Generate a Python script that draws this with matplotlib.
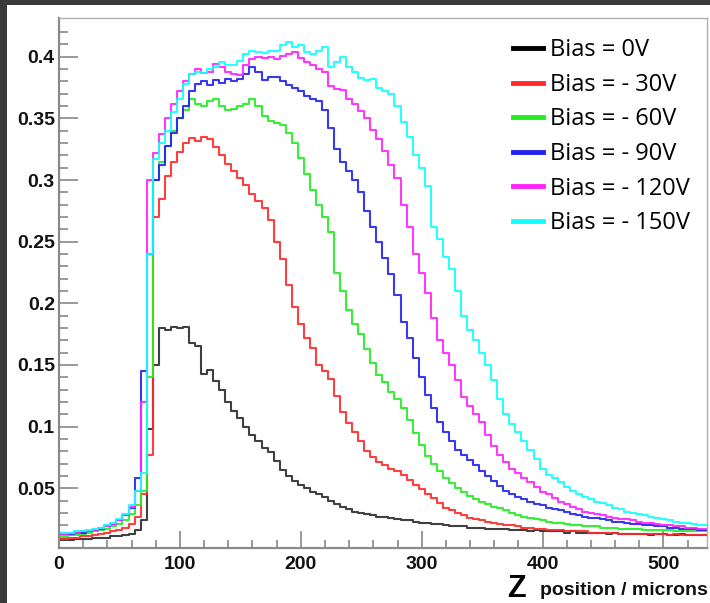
import numpy as np
import matplotlib.pyplot as plt
from matplotlib.patches import Rectangle

# Bin centres along z (microns), 5 micron bins
z_um = np.arange(0, 540, 5)

bias_labels = ["Bias = 0V", "Bias = - 30V", "Bias = - 60V",
               "Bias = - 90V", "Bias = - 120V", "Bias = - 150V"]
bias_colors = ["#2b2b2b", "#ff2a2a", "#22ee22", "#2222ee", "#ff22ff", "#11ffff"]

# Charge collection profiles (one value per bin)
bias_0 = [
    0.008, 0.008, 0.008, 0.009, 0.009, 0.009, 0.010, 0.010, 0.010, 0.011,
    0.011, 0.012, 0.013, 0.016, 0.024, 0.098, 0.150, 0.180, 0.178, 0.181,
    0.180, 0.181, 0.168, 0.165, 0.143, 0.146, 0.137, 0.130, 0.120, 0.113,
    0.107, 0.100, 0.093, 0.088, 0.083, 0.079, 0.072, 0.065, 0.060, 0.056,
    0.053, 0.050, 0.047, 0.045, 0.043, 0.040, 0.037, 0.035, 0.033, 0.031,
    0.030, 0.029, 0.028, 0.027, 0.027, 0.026, 0.025, 0.024, 0.024, 0.023,
    0.022, 0.022, 0.021, 0.021, 0.020, 0.019, 0.019, 0.019, 0.018, 0.018,
    0.018, 0.017, 0.017, 0.017, 0.017, 0.016, 0.016, 0.016, 0.015, 0.016,
    0.015, 0.015, 0.015, 0.015, 0.014, 0.015, 0.014, 0.014, 0.014, 0.014,
    0.014, 0.013, 0.014, 0.013, 0.013, 0.013, 0.013, 0.013, 0.012, 0.013,
    0.013, 0.012, 0.012, 0.013, 0.012, 0.012, 0.012, 0.012,
]
bias_30 = [
    0.009, 0.009, 0.010, 0.010, 0.011, 0.011, 0.012, 0.013, 0.014, 0.015,
    0.016, 0.018, 0.021, 0.027, 0.045, 0.077, 0.270, 0.285, 0.303, 0.315,
    0.323, 0.330, 0.334, 0.332, 0.335, 0.333, 0.327, 0.320, 0.313, 0.307,
    0.302, 0.296, 0.289, 0.283, 0.277, 0.268, 0.250, 0.236, 0.215, 0.197,
    0.183, 0.172, 0.164, 0.150, 0.145, 0.139, 0.125, 0.112, 0.103, 0.096,
    0.088, 0.080, 0.075, 0.071, 0.069, 0.066, 0.064, 0.061, 0.057, 0.053,
    0.049, 0.045, 0.042, 0.038, 0.034, 0.032, 0.030, 0.028, 0.026, 0.025,
    0.024, 0.023, 0.022, 0.021, 0.020, 0.020, 0.019, 0.018, 0.018, 0.017,
    0.017, 0.016, 0.016, 0.016, 0.015, 0.015, 0.015, 0.015, 0.014, 0.014,
    0.014, 0.014, 0.014, 0.013, 0.013, 0.013, 0.013, 0.013, 0.013, 0.013,
    0.013, 0.012, 0.013, 0.012, 0.012, 0.012, 0.012, 0.012,
]
bias_60 = [
    0.011, 0.011, 0.012, 0.012, 0.013, 0.014, 0.015, 0.016, 0.017, 0.019,
    0.021, 0.024, 0.029, 0.036, 0.048, 0.140, 0.300, 0.315, 0.328, 0.340,
    0.350, 0.357, 0.366, 0.362, 0.360, 0.364, 0.366, 0.360, 0.357, 0.358,
    0.360, 0.362, 0.366, 0.360, 0.352, 0.348, 0.346, 0.345, 0.338, 0.330,
    0.318, 0.305, 0.292, 0.280, 0.270, 0.258, 0.225, 0.210, 0.195, 0.183,
    0.175, 0.163, 0.152, 0.142, 0.136, 0.128, 0.122, 0.115, 0.105, 0.095,
    0.085, 0.076, 0.070, 0.064, 0.058, 0.054, 0.050, 0.047, 0.044, 0.041,
    0.039, 0.037, 0.035, 0.034, 0.032, 0.030, 0.028, 0.027, 0.026, 0.025,
    0.024, 0.023, 0.022, 0.022, 0.021, 0.020, 0.020, 0.019, 0.019, 0.019,
    0.018, 0.018, 0.018, 0.017, 0.017, 0.017, 0.017, 0.016, 0.016, 0.016,
    0.016, 0.016, 0.015, 0.015, 0.015, 0.015, 0.015, 0.015,
]
bias_90 = [
    0.013, 0.013, 0.013, 0.014, 0.014, 0.015, 0.016, 0.017, 0.019, 0.021,
    0.024, 0.028, 0.034, 0.058, 0.145, 0.240, 0.300, 0.312, 0.328, 0.338,
    0.350, 0.360, 0.372, 0.378, 0.380, 0.377, 0.381, 0.379, 0.382, 0.380,
    0.382, 0.386, 0.392, 0.388, 0.381, 0.384, 0.384, 0.380, 0.377, 0.375,
    0.372, 0.368, 0.366, 0.364, 0.357, 0.342, 0.325, 0.315, 0.307, 0.300,
    0.290, 0.275, 0.262, 0.250, 0.237, 0.224, 0.207, 0.185, 0.172, 0.156,
    0.140, 0.126, 0.115, 0.104, 0.096, 0.088, 0.081, 0.077, 0.073, 0.069,
    0.064, 0.060, 0.056, 0.052, 0.048, 0.045, 0.043, 0.041, 0.039, 0.037,
    0.036, 0.034, 0.033, 0.032, 0.031, 0.029, 0.028, 0.027, 0.026, 0.026,
    0.025, 0.024, 0.023, 0.023, 0.022, 0.021, 0.021, 0.020, 0.020, 0.019,
    0.019, 0.018, 0.018, 0.017, 0.017, 0.017, 0.016, 0.016,
]
bias_120 = [
    0.013, 0.013, 0.014, 0.014, 0.015, 0.015, 0.016, 0.018, 0.019, 0.021,
    0.024, 0.028, 0.035, 0.048, 0.120, 0.300, 0.322, 0.337, 0.350, 0.362,
    0.372, 0.380, 0.386, 0.390, 0.387, 0.388, 0.394, 0.392, 0.388, 0.386,
    0.385, 0.393, 0.398, 0.400, 0.399, 0.400, 0.398, 0.401, 0.402, 0.404,
    0.399, 0.396, 0.393, 0.390, 0.388, 0.376, 0.374, 0.373, 0.366, 0.362,
    0.356, 0.350, 0.341, 0.333, 0.324, 0.312, 0.302, 0.280, 0.262, 0.240,
    0.225, 0.208, 0.188, 0.170, 0.160, 0.150, 0.138, 0.124, 0.117, 0.110,
    0.104, 0.093, 0.084, 0.077, 0.071, 0.066, 0.062, 0.058, 0.055, 0.051,
    0.047, 0.045, 0.042, 0.039, 0.037, 0.035, 0.033, 0.031, 0.030, 0.029,
    0.028, 0.027, 0.026, 0.025, 0.025, 0.024, 0.023, 0.022, 0.022, 0.021,
    0.020, 0.020, 0.019, 0.019, 0.018, 0.018, 0.017, 0.017,
]
bias_150 = [
    0.014, 0.014, 0.014, 0.015, 0.015, 0.016, 0.017, 0.018, 0.020, 0.022,
    0.025, 0.029, 0.036, 0.048, 0.062, 0.240, 0.317, 0.330, 0.340, 0.355,
    0.366, 0.378, 0.386, 0.388, 0.387, 0.390, 0.392, 0.396, 0.393, 0.393,
    0.397, 0.402, 0.405, 0.404, 0.403, 0.405, 0.405, 0.410, 0.412, 0.408,
    0.410, 0.404, 0.402, 0.405, 0.408, 0.392, 0.396, 0.400, 0.392, 0.388,
    0.383, 0.381, 0.382, 0.375, 0.372, 0.370, 0.360, 0.347, 0.335, 0.320,
    0.310, 0.295, 0.262, 0.252, 0.238, 0.228, 0.210, 0.190, 0.178, 0.170,
    0.160, 0.150, 0.138, 0.122, 0.110, 0.102, 0.096, 0.088, 0.081, 0.074,
    0.066, 0.061, 0.058, 0.055, 0.051, 0.048, 0.045, 0.043, 0.041, 0.039,
    0.038, 0.036, 0.034, 0.033, 0.031, 0.030, 0.029, 0.028, 0.027, 0.026,
    0.025, 0.024, 0.023, 0.022, 0.022, 0.021, 0.020, 0.020,
]
profiles = [bias_0, bias_30, bias_60, bias_90, bias_120, bias_150]

fig = plt.figure(figsize=(7.10, 6.03), dpi=100, facecolor="white")

# dark screenshot border on the top and left edges
fig.patches.append(Rectangle((0, 0), 7 / 710, 1, transform=fig.transFigure,
                             facecolor="#3a3a3a", edgecolor="none", zorder=0))
fig.patches.append(Rectangle((0, 1 - 5 / 603), 1, 5 / 603, transform=fig.transFigure,
                             facecolor="#3a3a3a", edgecolor="none", zorder=0))

ax = fig.add_axes([59 / 710, 55 / 603, 648 / 710, 530 / 603])

lines = []
for vals, lab, col in zip(profiles, bias_labels, bias_colors):
    ln, = ax.step(z_um, vals, where="mid", color=col, lw=1.5, alpha=0.9, label=lab)
    lines.append(ln)

ax.set_xlim(0, 536)
ax.set_ylim(0.0015, 0.4315)

ax.set_xticks([0, 100, 200, 300, 400, 500])
ax.set_xticks(np.arange(0, 540, 20), minor=True)
ax.set_yticks([0.05, 0.1, 0.15, 0.2, 0.25, 0.3, 0.35, 0.4])
ax.set_yticklabels(["0.05", "0.1", "0.15", "0.2", "0.25", "0.3", "0.35", "0.4"])
ax.set_yticks(np.arange(0.01, 0.43, 0.01), minor=True)

ax.tick_params(axis="y", which="major", direction="in", length=13.5, width=1.4,
               color="#999999", pad=3, labelsize=14)
ax.tick_params(axis="y", which="minor", direction="in", length=6.5, width=1.4,
               color="#999999")
ax.tick_params(axis="x", which="major", direction="in", length=12, width=1.4,
               color="#999999", pad=6, labelsize=14)
ax.tick_params(axis="x", which="minor", direction="in", length=6, width=1.4,
               color="#999999")
for lab in ax.get_xticklabels() + ax.get_yticklabels():
    lab.set_fontfamily("Liberation Sans")
    lab.set_fontweight("bold")
    lab.set_color("#111111")

for side in ["left", "bottom"]:
    ax.spines[side].set_color("#8a8a8a")
    ax.spines[side].set_linewidth(1.6)
for side in ["top", "right"]:
    ax.spines[side].set_color("#b0b0b0")
    ax.spines[side].set_linewidth(1.0)

leg = ax.legend(handles=lines, loc="upper left", bbox_to_anchor=(0.700, 0.962),
                frameon=False, borderaxespad=0, borderpad=0,
                handlelength=1.3, handletextpad=0.28, labelspacing=0.45,
                prop={"family": "Open Sans", "size": 17})
for h in leg.legend_handles:
    h.set_linewidth(3.5)
    h.set_alpha(1.0)
leg.legend_handles[0].set_color("black")

fig.text(507 / 710, 6 / 603, "Z", fontsize=22, fontweight="bold",
         family="Liberation Sans", color="black")
fig.text(540 / 710, 8 / 603, "position / microns", fontsize=14, fontweight="bold",
         family="Liberation Sans", color="#111111")

fig.savefig("out.png", dpi=100, facecolor=fig.get_facecolor())
